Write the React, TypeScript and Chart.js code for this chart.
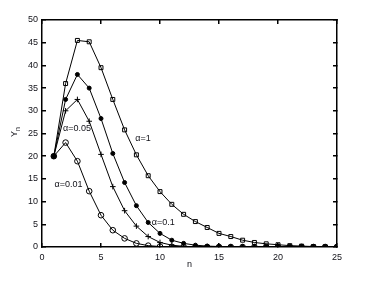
import React, { useEffect, useRef } from 'react';
import { Chart, registerables } from 'chart.js';
Chart.register(...registerables);

const nValues = [1, 2, 3, 4, 5, 6, 7, 8, 9, 10, 11, 12, 13, 14, 15, 16, 17, 18, 19, 20, 21, 22, 23, 24, 25];
const alpha1 = [20, 36, 45.5, 45.2, 39.5, 32.5, 25.8, 20.3, 15.7, 12.2, 9.4, 7.2, 5.6, 4.3, 3.0, 2.3, 1.5, 1.0, 0.7, 0.5, 0.3, 0.2, 0.1, 0.05, 0.03];
const alpha01 = [20, 32.5, 38, 35, 28.3, 20.6, 14.2, 9.1, 5.4, 3.0, 1.5, 0.8, 0.4, 0.2, 0.1, 0.05, 0.02, 0.01, 0, 0, 0, 0, 0, 0, 0];
const alpha005 = [20, 30, 32.5, 27.7, 20.4, 13.3, 8.0, 4.6, 2.3, 1.0, 0.4, 0.15, 0.05, 0.02, 0, 0, 0, 0, 0, 0, 0, 0, 0, 0, 0];
const alpha001 = [20, 23, 18.9, 12.3, 7.0, 3.7, 1.9, 0.8, 0.3, 0.1, 0.04, 0.01, 0, 0, 0, 0, 0, 0, 0, 0, 0, 0, 0, 0, 0];

const labelTexts = ['α=1', 'α=0.1', 'α=0.05', 'α=0.01'];
const labelX = [8.56, 10.27, 2.97, 2.24];
const labelY = [24, 5.5, 26.2, 13.7];

const FONT = '"Liberation Sans", Arial, sans-serif';
const TEXT = '#111118';

export default function App() {
  const ref = useRef<HTMLCanvasElement>(null);
  useEffect(() => {
    document.body.style.margin = '0';
    const canvas = ref.current!;
    const textPlugin = {
      id: 'texts',
      afterDatasetsDraw(chart: any) {
        const ctx = chart.ctx as CanvasRenderingContext2D;
        const { left, right } = chart.chartArea;
        const xs = chart.scales.x;
        const ys = chart.scales.y;
        ctx.save();
        ctx.fillStyle = TEXT;
        ctx.font = `9px ${FONT}`;
        ctx.textAlign = 'center';
        ctx.textBaseline = 'middle';
        labelTexts.forEach((t, i) => {
          ctx.fillText(t, xs.getPixelForValue(labelX[i]), ys.getPixelForValue(labelY[i]));
        });
        ctx.fillText('n', (left + right) / 2, 265);
        ctx.translate(14.5, 134);
        ctx.rotate(-Math.PI / 2);
        ctx.fillText('Y', 0, 0);
        ctx.font = `7px ${FONT}`;
        ctx.fillText('n', 5, 4);
        ctx.restore();
      },
    };
    const gridOpts = { display: true, drawOnChartArea: false, drawTicks: true, tickLength: -4, color: '#000', lineWidth: 1.5 };
    const borderOpts = { display: true, color: '#000', width: 1.5 };
    const chart = new Chart(canvas, {
      type: 'line',
      data: {
        labels: nValues,
        datasets: [
          { label: 'α=1', data: nValues.map((n, i) => ({ x: n, y: alpha1[i] })), borderColor: '#000', borderWidth: 1, pointStyle: 'rect', pointRadius: 2.8, pointBorderWidth: 1, pointBorderColor: '#000', pointBackgroundColor: 'rgba(255,255,255,0)' },
          { label: 'α=0.05', data: nValues.map((n, i) => ({ x: n, y: alpha005[i] })), borderColor: '#000', borderWidth: 1, pointStyle: 'cross', pointRadius: 2.8, pointBorderWidth: 1, pointBorderColor: '#000' },
          { label: 'α=0.01', data: nValues.map((n, i) => ({ x: n, y: alpha001[i] })), borderColor: '#000', borderWidth: 1, pointStyle: 'circle', pointRadius: 2.8, pointBorderWidth: 1, pointBorderColor: '#000', pointBackgroundColor: 'rgba(255,255,255,0)' },
          { label: 'α=0.1', data: nValues.map((n, i) => ({ x: n, y: alpha01[i] })), borderColor: '#000', borderWidth: 1, pointStyle: 'circle', pointRadius: 2, pointBorderWidth: 1, pointBorderColor: '#000', pointBackgroundColor: '#000' },
        ],
      },
      options: {
        animation: false,
        responsive: false,
        devicePixelRatio: 1,
        layout: { padding: 0 },
        plugins: { legend: { display: false }, tooltip: { enabled: false } },
        elements: { line: { tension: 0 } },
        scales: {
          x: {
            type: 'linear', min: 0, max: 25, position: 'bottom',
            afterFit: (s: any) => { s.height = 35; },
            grid: gridOpts,
            border: borderOpts,
            ticks: { stepSize: 5, color: TEXT, font: { size: 9, family: FONT }, padding: 9, maxRotation: 0 },
          },
          x2: {
            type: 'linear', min: 0, max: 25, position: 'top',
            afterFit: (s: any) => { s.height = 20; },
            grid: gridOpts,
            border: borderOpts,
            ticks: { stepSize: 5, display: false },
          },
          y: {
            type: 'linear', min: 0, max: 50, position: 'left',
            afterFit: (s: any) => { s.width = 42; },
            grid: gridOpts,
            border: borderOpts,
            ticks: { stepSize: 5, color: TEXT, font: { size: 9, family: FONT }, padding: 8 },
          },
          y2: {
            type: 'linear', min: 0, max: 50, position: 'right',
            afterFit: (s: any) => { s.width = 30; },
            grid: gridOpts,
            border: borderOpts,
            ticks: { stepSize: 5, display: false },
          },
        },
      },
      plugins: [textPlugin],
    });
    return () => chart.destroy();
  }, []);
  return <canvas ref={ref} width={367} height={282} style={{ display: 'block' }} />;
}
